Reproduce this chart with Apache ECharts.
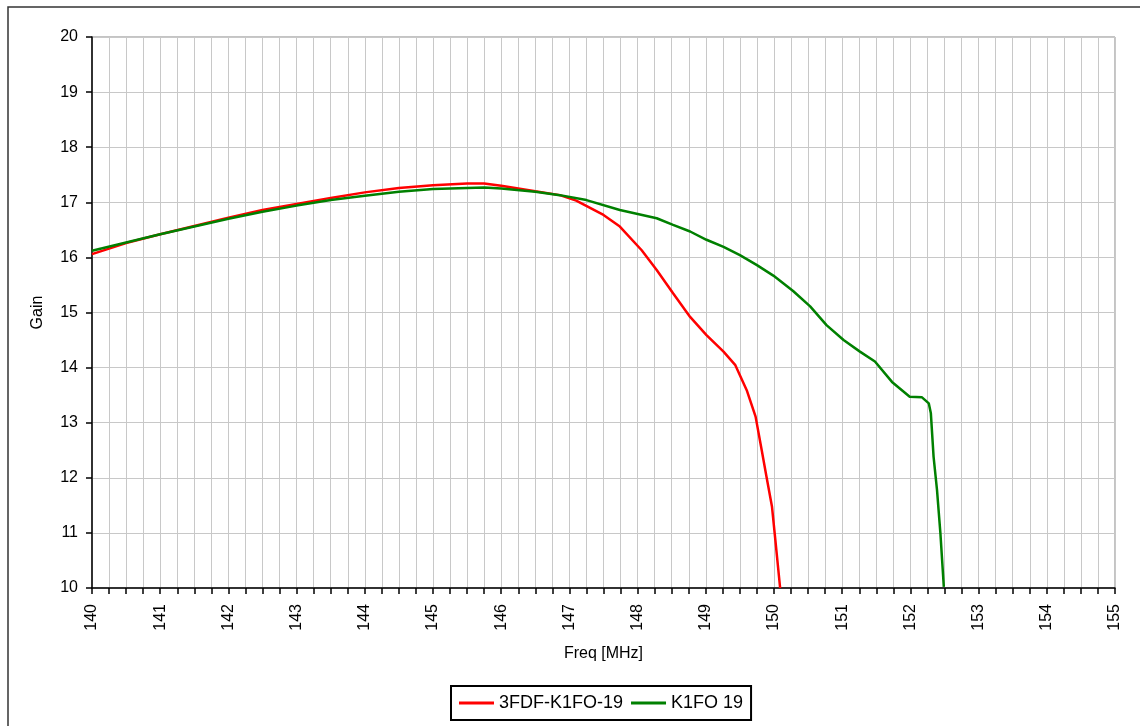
<!DOCTYPE html>
<html>
<head>
<meta charset="utf-8">
<script src="https://cdn.jsdelivr.net/npm/echarts@6/dist/echarts.min.js"></script>
<style>html,body{margin:0;padding:0;background:#fff}#c{width:1140px;height:726px}</style>
</head>
<body>
<div id="c"></div>
<script>
var seriesNames = ['3FDF-K1FO-19', 'K1FO 19'];
var redFreq = [140, 140.5, 141, 141.5, 142, 142.5, 143, 143.5, 144, 144.5, 145, 145.5, 145.75, 146, 146.5, 146.86, 147.1, 147.5, 147.74, 148.06, 148.28, 148.52, 148.77, 149.01, 149.26, 149.43, 149.6, 149.73, 149.82, 149.89, 149.97, 150.02, 150.09];
var redGain = [16.06, 16.26, 16.42, 16.57, 16.72, 16.86, 16.97, 17.08, 17.18, 17.26, 17.31, 17.34, 17.34, 17.30, 17.20, 17.13, 17.03, 16.77, 16.56, 16.13, 15.77, 15.35, 14.92, 14.59, 14.29, 14.05, 13.59, 13.11, 12.50, 12.02, 11.48, 10.87, 10.0];
var greenFreq = [140, 140.5, 141, 141.5, 142, 142.5, 143, 143.5, 144, 144.5, 145, 145.5, 145.75, 146, 146.5, 146.86, 147.25, 147.74, 148.28, 148.52, 148.77, 149.01, 149.26, 149.5, 149.75, 149.99, 150.28, 150.53, 150.77, 151.02, 151.26, 151.48, 151.73, 151.99, 152.17, 152.27, 152.3, 152.34, 152.39, 152.44, 152.49];
var greenGain = [16.12, 16.27, 16.42, 16.56, 16.70, 16.83, 16.94, 17.04, 17.12, 17.19, 17.24, 17.26, 17.27, 17.25, 17.19, 17.13, 17.04, 16.86, 16.71, 16.59, 16.47, 16.32, 16.19, 16.04, 15.86, 15.67, 15.39, 15.11, 14.77, 14.50, 14.29, 14.11, 13.74, 13.47, 13.46, 13.35, 13.17, 12.38, 11.78, 10.99, 10.02];

function pairs(xs, ys) { return xs.map(function (x, i) { return [x, ys[i]]; }); }

var font = "'Liberation Sans', Arial, sans-serif";
var chart = echarts.init(document.getElementById('c'), null, { renderer: 'canvas' });
chart.setOption({
  animation: false,
  backgroundColor: '#fff',
  graphic: [{
    type: 'rect', shape: { x: 8, y: 7, width: 1200, height: 800 },
    style: { fill: 'none', stroke: '#333', lineWidth: 1.5 }, silent: true
  }],
  grid: { left: 92, right: 25, top: 37, bottom: 138, show: true, borderColor: '#888', borderWidth: 1, backgroundColor: 'transparent' },
  legend: {
    data: seriesNames, top: 686, left: 451,
    icon: 'rect', itemWidth: 35, itemHeight: 3, itemGap: 8,
    borderColor: '#000', borderWidth: 2, padding: [8, 8, 8, 8],
    textStyle: { fontFamily: font, fontSize: 18, color: '#000' }
  },
  xAxis: {
    type: 'value', min: 140, max: 155, interval: 0.25,
    name: 'Freq [MHz]', nameLocation: 'middle', nameGap: 58,
    nameTextStyle: { fontFamily: font, fontSize: 16, color: '#000' },
    axisLine: { show: true, onZero: false, lineStyle: { color: '#000', width: 1.5 } },
    axisTick: { show: true, length: 6, lineStyle: { color: '#000', width: 1.5 } },
    axisLabel: {
      rotate: 90, margin: 16, fontFamily: font, fontSize: 16, color: '#000',
      formatter: function (v) { return Math.abs(v - Math.round(v)) < 1e-6 ? String(Math.round(v)) : ''; }
    },
    splitLine: { show: true, lineStyle: { color: '#c8c8c8', width: 1 } }
  },
  yAxis: {
    type: 'value', min: 10, max: 20, interval: 1,
    name: 'Gain', nameLocation: 'middle', nameGap: 46,
    nameTextStyle: { fontFamily: font, fontSize: 16, color: '#000' },
    axisLine: { show: true, onZero: false, lineStyle: { color: '#000', width: 1.5 } },
    axisTick: { show: true, length: 6, lineStyle: { color: '#000', width: 1.5 } },
    axisLabel: { margin: 14, fontFamily: font, fontSize: 16, color: '#000' },
    splitLine: { show: true, lineStyle: { color: '#c8c8c8', width: 1 } }
  },
  series: [
    { name: seriesNames[0], type: 'line', data: pairs(redFreq, redGain), showSymbol: false, symbol: 'none', clip: true,
      lineStyle: { color: '#ff0000', width: 2.5 }, itemStyle: { color: '#ff0000' }, z: 3 },
    { name: seriesNames[1], type: 'line', data: pairs(greenFreq, greenGain), showSymbol: false, symbol: 'none', clip: true,
      lineStyle: { color: '#008000', width: 2.5 }, itemStyle: { color: '#008000' }, z: 4 }
  ]
});
</script>
</body>
</html>
